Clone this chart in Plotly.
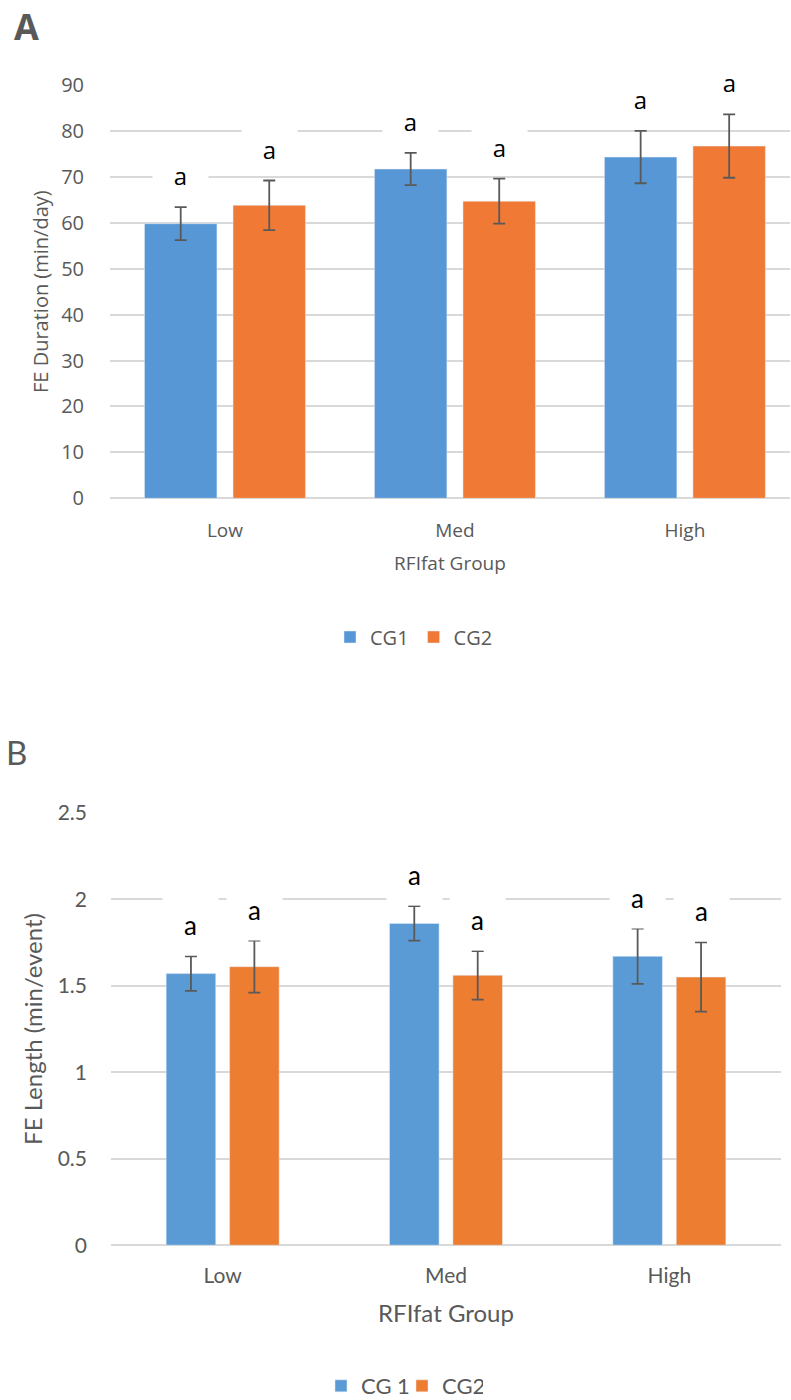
import plotly.graph_objects as go

# ---------------- data ----------------
groups = ["Low", "Med", "High"]

a_cg1 = [59.8, 71.7, 74.3]
a_cg1_err = [3.6, 3.5, 5.7]
a_cg2 = [63.8, 64.7, 76.7]
a_cg2_err = [5.4, 4.9, 6.9]
a_letters_cg1 = ["a", "a", "a"]
a_letters_cg2 = ["a", "a", "a"]

b_cg1 = [1.57, 1.86, 1.67]
b_cg1_err = [0.10, 0.10, 0.16]
b_cg2 = [1.61, 1.56, 1.55]
b_cg2_err = [0.15, 0.14, 0.20]
b_letters_cg1 = ["a", "a", "a"]
b_letters_cg2 = ["a", "a", "a"]

a_ticks = [0, 10, 20, 30, 40, 50, 60, 70, 80, 90]
b_ticks = [0, 0.5, 1, 1.5, 2, 2.5]

# ---------------- styles ----------------
W, H = 791, 1400
BLUE_A, ORANGE_A = "#5797d5", "#f07a35"
BLUE_B, ORANGE_B = "#5b9bd5", "#ed7d31"
GREY = "#595959"
GRID = "#d9d9d9"
FA = "Open Sans"
FB = "Lato"

# bar geometry (category units)
A_W, A_OFF1, A_OFF2 = 0.315, -0.350, 0.035
B_W, B_OFF1, B_OFF2 = 0.222, -0.253, 0.031


def px(x):
    """page pixel x -> paper fraction"""
    return x / W


def py(y):
    """page pixel y -> paper fraction"""
    return 1 - y / H


err_style = dict(type="data", color=GREY, thickness=1.8, width=6, visible=True)

fig = go.Figure()

fig.add_trace(go.Bar(x=groups, y=a_cg1, name="CG1", marker_color=BLUE_A,
                     width=A_W, offset=A_OFF1, xaxis="x", yaxis="y",
                     error_y=dict(array=a_cg1_err, **err_style), legend="legend"))
fig.add_trace(go.Bar(x=groups, y=a_cg2, name="CG2", marker_color=ORANGE_A,
                     width=A_W, offset=A_OFF2, xaxis="x", yaxis="y",
                     error_y=dict(array=a_cg2_err, **err_style), legend="legend"))
fig.add_trace(go.Bar(x=groups, y=b_cg1, name="CG 1", marker_color=BLUE_B,
                     width=B_W, offset=B_OFF1, xaxis="x2", yaxis="y2",
                     error_y=dict(array=b_cg1_err, **err_style), legend="legend2"))
fig.add_trace(go.Bar(x=groups, y=b_cg2, name="CG2", marker_color=ORANGE_B,
                     width=B_W, offset=B_OFF2, xaxis="x2", yaxis="y2",
                     error_y=dict(array=b_cg2_err, **err_style), legend="legend2"))

annotations = []


def letters(vals, errs, labs, off, w, xref, yref, font, size, boxh, shift):
    for i, (v, e, t) in enumerate(zip(vals, errs, labs)):
        annotations.append(dict(
            x=i + off + w / 2, y=v + e, xref=xref, yref=yref, text=t,
            showarrow=False, yanchor="middle", xanchor="center", yshift=shift,
            font=dict(family=font, size=size, color="black"),
            bgcolor="white", width=55, height=boxh, borderpad=0))


letters(a_cg1, a_cg1_err, a_letters_cg1, A_OFF1, A_W, "x", "y", FA, 24, 40, 32)
letters(a_cg2, a_cg2_err, a_letters_cg2, A_OFF2, A_W, "x", "y", FA, 24, 40, 32)
letters(b_cg1, b_cg1_err, b_letters_cg1, B_OFF1, B_W, "x2", "y2", FB, 26, 60, 31)
letters(b_cg2, b_cg2_err, b_letters_cg2, B_OFF2, B_W, "x2", "y2", FB, 26, 60, 31)

annotations.append(dict(text="<b>A</b>", x=px(12), y=py(26), xref="paper", yref="paper",
                        xanchor="left", yanchor="middle", showarrow=False,
                        font=dict(family=FA, size=36, color=GREY)))
annotations.append(dict(text="B", x=px(4), y=py(752), xref="paper", yref="paper",
                        xanchor="left", yanchor="middle", showarrow=False,
                        font=dict(family=FB, size=33, color=GREY)))

fig.update_layout(
    width=W, height=H,
    margin=dict(l=0, r=0, t=0, b=0, pad=0, autoexpand=False),
    paper_bgcolor="white", plot_bgcolor="white",
    barmode="group",
    showlegend=True,
    annotations=annotations,
    xaxis=dict(domain=[px(110), px(790)], anchor="y", range=[-0.5, 2.457],
               automargin=False,
               showgrid=False, zeroline=False, showline=False, ticks="",
               tickfont=dict(family=FA, size=19, color=GREY), ticklabelstandoff=19,
               title=dict(text="RFIfat Group", font=dict(family=FA, size=19, color=GREY),
                          standoff=14)),
    yaxis=dict(domain=[py(498.3), py(85)], anchor="x", range=[0, 90],
               automargin=False,
               tickvals=a_ticks, showgrid=True, gridcolor=GRID, gridwidth=1.5,
               zeroline=True, zerolinecolor=GRID, zerolinewidth=1.5,
               showline=False, ticks="",
               tickfont=dict(family=FA, size=20, color=GREY), ticklabelstandoff=25,
               title=dict(text="FE Duration (min/day)",
                          font=dict(family=FA, size=20, color=GREY), standoff=7)),
    xaxis2=dict(domain=[px(111), px(781)], anchor="y2", range=[-0.5, 2.5],
                automargin=False,
                showgrid=False, zeroline=False, showline=False, ticks="",
                tickfont=dict(family=FB, size=21, color=GREY), ticklabelstandoff=16,
                title=dict(text="RFIfat Group", font=dict(family=FB, size=24, color=GREY),
                           standoff=18)),
    yaxis2=dict(domain=[py(1245.2), py(812.7)], anchor="x2", range=[0, 2.5],
                automargin=False,
                tickvals=b_ticks, showgrid=True, gridcolor=GRID, gridwidth=1.5,
                zeroline=True, zerolinecolor=GRID, zerolinewidth=1.5,
                showline=False, ticks="",
                tickfont=dict(family=FB, size=21, color=GREY), ticklabelstandoff=23,
                title=dict(text="FE Length (min/event)",
                           font=dict(family=FB, size=24, color=GREY), standoff=8)),
    legend=dict(orientation="h", x=px(414), y=py(637), xanchor="center", yanchor="middle",
                font=dict(family=FA, size=20, color=GREY), itemclick=False,
                bgcolor="rgba(0,0,0,0)"),
    legend2=dict(orientation="h", x=px(402), y=py(1386), xanchor="center", yanchor="middle",
                 font=dict(family=FB, size=22, color=GREY), itemclick=False,
                 entrywidth=36, entrywidthmode="pixels",
                 bgcolor="rgba(0,0,0,0)"),
)

# remove the browser's default 8px page margin so the figure sits at (0, 0)
fig.write_html("out.html", config={"displayModeBar": False},
               post_script="document.body.style.margin='0px';")
